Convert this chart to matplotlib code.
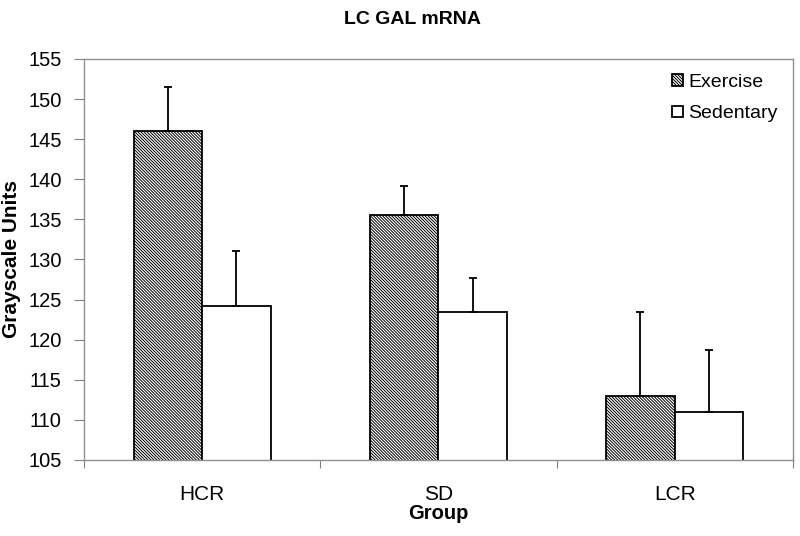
import numpy as np
import matplotlib.pyplot as plt

plt.rcParams['font.family'] = ['Liberation Sans', 'DejaVu Sans']
plt.rcParams['hatch.linewidth'] = 0.7

groups = ['HCR', 'SD', 'LCR']
exercise = [146.0, 135.5, 113.0]
exercise_err = [5.5, 3.6, 10.4]
sedentary = [124.2, 123.4, 111.0]
sedentary_err = [6.8, 4.3, 7.7]


def main():
    fig = plt.figure(figsize=(8, 5.36), dpi=100)
    ax = fig.add_axes([0.105, 0.142, 0.886, 0.748])

    x = np.arange(len(groups))
    w = 0.29
    ekw = dict(ecolor='black', elinewidth=1.3, capsize=3, capthick=1.3)
    ax.bar(x - w / 2, exercise, w, color='white', edgecolor='black',
           hatch='\\' * 11, linewidth=1.3, label='Exercise',
           yerr=[np.zeros(3), exercise_err], error_kw=ekw)
    ax.bar(x + w / 2, sedentary, w, color='white', edgecolor='black',
           linewidth=1.3, label='Sedentary',
           yerr=[np.zeros(3), sedentary_err], error_kw=ekw)

    ax.set_ylim(105, 155)
    ax.set_yticks(np.arange(105, 156, 5))
    ax.set_xlim(-0.5, 2.5)
    ax.set_xticks([-0.5, 0.5, 1.5, 2.5], minor=False)
    ax.set_xticklabels([])
    ax.set_xticks(x, minor=True)
    ax.set_xticklabels(groups, minor=True)
    ax.tick_params(axis='x', which='major', length=6, direction='out', color='#808080')
    ax.tick_params(axis='x', which='minor', length=0, pad=18, labelsize=15)
    ax.tick_params(axis='y', length=7, color='#808080', labelsize=14.5, pad=9)

    for s in ax.spines.values():
        s.set_color('#909090')
        s.set_linewidth(1.0)

    ax.set_xlabel('Group', fontsize=14.5, fontweight='bold', labelpad=0)
    ax.set_ylabel('Grayscale Units', fontsize=15, fontweight='bold', labelpad=5)
    fig.suptitle('LC GAL mRNA', fontsize=14, fontweight='bold', x=0.515, y=0.964, va='center')

    ax.legend(loc='upper right', frameon=False, fontsize=14, handlelength=0.55,
              handleheight=0.55, handletextpad=0.25, labelspacing=0.75,
              bbox_to_anchor=(1.003, 1.007))

    fig.savefig('out.png', dpi=100)


if __name__ == "__main__":
    main()
